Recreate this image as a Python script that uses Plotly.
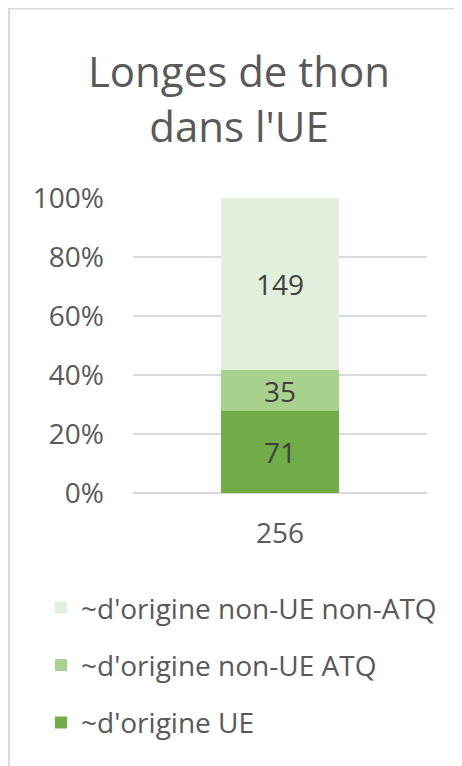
import plotly.graph_objects as go

categories = ["256"]
series_names = ["~d'origine UE", "~d'origine non-UE ATQ", "~d'origine non-UE non-ATQ"]
ue = [71]
non_ue_atq = [35]
non_ue_non_atq = [149]
colors = ["#70AD47", "#A9D18E", "#E2EFDA"]
title_text = "Longes de thon<br>dans l'UE"

OFF = 8  # page body margin
W, H = 462 - OFF, 766 - OFF
# plot area in page pixels: x 133..427, y 198..493
L, R, T, B = 133 - OFF, 462 - 427, 198 - OFF, 766 - 493
PW, PH = W - L - R, H - T - B

def px(x):  # page pixel -> paper
    return (x - OFF - L) / PW

def py(y):
    return (H - B - (y - OFF)) / PH

FONT = "Open Sans"
fig = go.Figure()
for i, (name, vals) in enumerate(zip(series_names, [ue, non_ue_atq, non_ue_non_atq])):
    fig.add_trace(go.Bar(
        x=categories, y=vals, name=name, marker=dict(color=colors[i], line=dict(width=0)),
        text=[str(v) for v in vals], textposition="inside", insidetextanchor="middle",
        textangle=0, constraintext="none",
        textfont=dict(family=FONT, size=28, color="#404040"),
        legendgroup=name, legendrank=3 - i, hoverinfo="skip",
    ))

fig.update_layout(
    width=W, height=H,
    margin=dict(l=L, r=R, t=T, b=B, pad=0),
    paper_bgcolor="white", plot_bgcolor="white",
    barmode="stack", barnorm="percent", bargap=0.6,
    title=dict(text=title_text, xref="container", x=(239 - OFF) / W, xanchor="center",
               yref="container", y=1 - (87 - OFF) / H, yanchor="middle",
               font=dict(family=FONT, size=42, color="#595959")),
    yaxis=dict(range=[0, 100], dtick=20, ticksuffix="%", showgrid=True, gridcolor="#D9D9D9",
               gridwidth=2, zeroline=True, zerolinecolor="#D9D9D9", zerolinewidth=2,
               showline=False, ticks="", ticklabelstandoff=28,
               tickfont=dict(family=FONT, size=28, color="#595959")),
    xaxis=dict(showgrid=False, showline=False, ticks="", ticklabelstandoff=21,
               tickfont=dict(family=FONT, size=28, color="#595959")),
    legend=dict(x=px(41), y=py(583), xanchor="left", yanchor="top", traceorder="grouped",
                tracegroupgap=18, font=dict(family=FONT, size=28, color="#595959"),
                bgcolor="rgba(0,0,0,0)"),
    showlegend=True,
    shapes=[
        dict(type="line", xref="paper", yref="paper", x0=px(9), x1=px(9), y0=py(7), y1=py(766),
             line=dict(color="#D9D9D9", width=2)),
        dict(type="line", xref="paper", yref="paper", x0=px(8), x1=px(462), y0=py(8.5), y1=py(8.5),
             line=dict(color="#D9D9D9", width=2)),
    ],
)

fig.write_html("out.html")
